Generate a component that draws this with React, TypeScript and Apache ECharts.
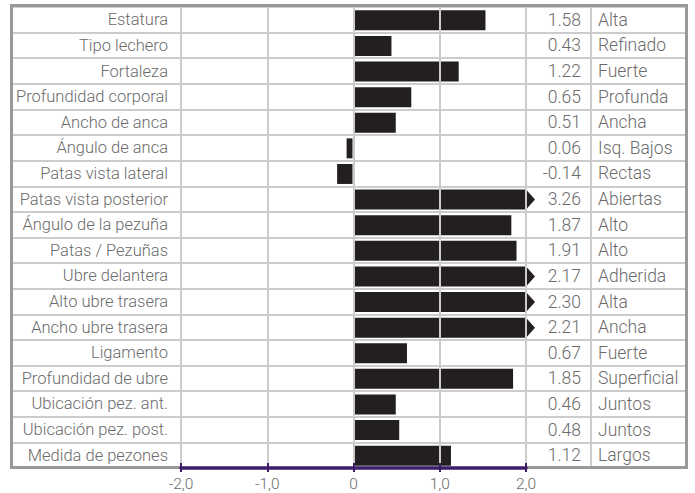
import React, { useEffect, useRef } from "react";
import * as echarts from "echarts";

const traits = [
  "Estatura",
  "Tipo lechero",
  "Fortaleza",
  "Profundidad corporal",
  "Ancho de anca",
  "Ángulo de anca",
  "Patas vista lateral",
  "Patas vista posterior",
  "Ángulo de la pezuña",
  "Patas / Pezuñas",
  "Ubre delantera",
  "Alto ubre trasera",
  "Ancho ubre trasera",
  "Ligamento",
  "Profundidad de ubre",
  "Ubicación pez. ant.",
  "Ubicación pez. post.",
  "Medida de pezones",
];

// printed scores in the value column
const scoreLabels = [
  "1.58", "0.43", "1.22", "0.65", "0.51", "0.06", "-0.14", "3.26", "1.87",
  "1.91", "2.17", "2.30", "2.21", "0.67", "1.85", "0.46", "0.48", "1.12",
];

// bar lengths as drawn in the picture
const barValues = [
  1.53, 0.44, 1.22, 0.67, 0.49, -0.08, -0.19, 3.26, 1.83,
  1.89, 2.17, 2.3, 2.21, 0.62, 1.85, 0.49, 0.53, 1.13,
];

const descriptions = [
  "Alta", "Refinado", "Fuerte", "Profunda", "Ancha", "Isq. Bajos", "Rectas",
  "Abiertas", "Alto", "Alto", "Adherida", "Alta", "Ancha", "Fuerte",
  "Superficial", "Juntos", "Juntos", "Largos",
];

const xTicks = [-2, -1, 0, 1, 2];

const FONT = "Roboto";
const TEXT = "#6b6b6b";
const GRIDLINE = "#cccccc";
const BORDER = "#999999";
const PURPLE = "#3d1c6b";
const BAR = "#231f20";

export default function App() {
  const ref = useRef<HTMLDivElement>(null);

  useEffect(() => {
    if (!ref.current) return;
    const chart = echarts.init(ref.current, undefined, { renderer: "svg" });
    const xMin = xTicks[0];
    const xMax = xTicks[xTicks.length - 1];

    const labelStyle = {
      fontFamily: FONT,
      fontWeight: 300 as any,
      fontSize: 16.5,
      color: TEXT,
    };
    const colStyle = { ...labelStyle, fontSize: 17.5 };

    chart.setOption({
      animation: false,
      backgroundColor: "#ffffff",
      grid: [
        { left: 13, right: 10, top: 7, bottom: 25 },
        { left: 181, right: 169, top: 7, bottom: 25 },
      ],
      xAxis: [
        {
          gridIndex: 0,
          type: "value",
          show: false,
          min: 0,
          max: 1,
        },
        {
          gridIndex: 1,
          type: "value",
          min: xMin,
          max: xMax,
          interval: 1,
          position: "bottom",
          z: 10,
          axisLine: { show: true, lineStyle: { color: PURPLE, width: 3.5 } },
          axisTick: { show: true, inside: false, length: 4, lineStyle: { color: PURPLE, width: 2 } },
          axisLabel: {
            fontFamily: FONT,
            fontWeight: 300 as any,
            fontSize: 15.5,
            color: TEXT,
            margin: 8,
            formatter: (v: number) => (v === 0 ? "0" : v.toFixed(1).replace(".", ",")),
          },
          splitLine: { show: true, lineStyle: { color: GRIDLINE, width: 2 } },
        },
        {
          gridIndex: 1,
          type: "value",
          min: xMin,
          max: xMax,
          interval: 1,
          position: "bottom",
          z: 10,
          axisLine: { show: false },
          axisTick: { show: true, inside: true, length: 5, lineStyle: { color: PURPLE, width: 2 } },
          axisLabel: { show: false },
          splitLine: { show: false },
        },
      ],
      yAxis: [
        {
          gridIndex: 0,
          type: "category",
          inverse: true,
          data: traits,
          axisLine: { show: false },
          axisTick: { show: false },
          axisLabel: { show: false },
          splitLine: { show: true, lineStyle: { color: GRIDLINE, width: 2 } },
        },
        {
          gridIndex: 1,
          type: "category",
          inverse: true,
          data: traits,
          position: "left",
          axisLine: { show: false },
          axisTick: { show: false },
          axisLabel: { ...labelStyle, margin: 13, align: "right" },
          splitLine: { show: false },
        },
        {
          gridIndex: 1,
          type: "category",
          inverse: true,
          data: scoreLabels,
          position: "right",
          offset: 0,
          axisLine: { show: false },
          axisTick: { show: false },
          axisLabel: { ...colStyle, margin: 55, align: "right" },
          splitLine: { show: false },
        },
        {
          gridIndex: 1,
          type: "category",
          inverse: true,
          data: descriptions,
          position: "right",
          offset: 65,
          axisLine: { show: true, lineStyle: { color: GRIDLINE, width: 2 } },
          axisTick: { show: false },
          axisLabel: { ...colStyle, margin: 7, align: "left" },
          splitLine: { show: false },
        },
      ],
      graphic: [
        {
          type: "polyline",
          z: 1,
          shape: {
            points: [
              [181, 467.5],
              [11.5, 467.5],
              [11.5, 5.5],
              [686.5, 5.5],
              [686.5, 467.5],
              [526, 467.5],
            ],
          },
          style: { fill: "none", stroke: BORDER, lineWidth: 3 },
        },
      ],
      series: [
        {
          type: "custom",
          xAxisIndex: 1,
          yAxisIndex: 1,
          z: 3,
          data: barValues.map((v, i) => [v, i]),
          renderItem: (params: any, api: any) => {
            const v = api.value(0);
            const idx = api.value(1);
            const zero = api.coord([0, idx]);
            const capped = Math.min(v, xMax);
            const end = api.coord([capped, idx]);
            const h = api.size([0, 1])[1] * 0.78;
            const y0 = zero[1] - h / 2 + 0.5;
            const x0 = zero[0] + (v >= 0 ? 1.5 : -1);
            const x1 = end[0];
            if (v > xMax) {
              return {
                type: "polygon",
                shape: {
                  points: [
                    [x0, y0],
                    [x1, y0],
                    [x1 + 9, y0 + h / 2],
                    [x1, y0 + h],
                    [x0, y0 + h],
                  ],
                },
                style: { fill: BAR },
              };
            }
            return {
              type: "rect",
              shape: {
                x: Math.min(x0, x1),
                y: y0,
                width: Math.abs(x1 - x0),
                height: h,
              },
              style: { fill: BAR },
            };
          },
        },
      ],
    });

    return () => {
      chart.dispose();
    };
  }, []);

  return (
    <div
      ref={ref}
      style={{ position: "fixed", left: 0, top: 0, width: 695, height: 493 }}
    />
  );
}
